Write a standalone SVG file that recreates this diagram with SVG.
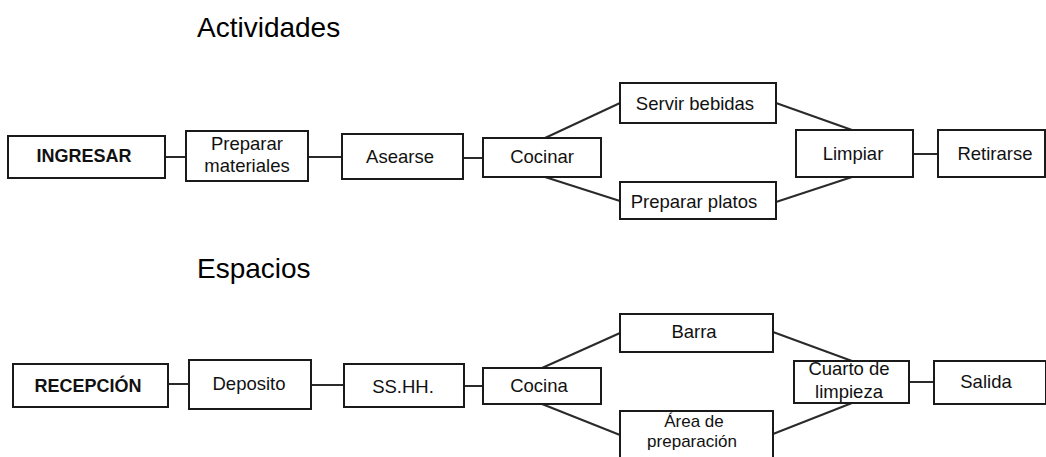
<svg xmlns="http://www.w3.org/2000/svg" width="1046" height="457" viewBox="0 0 1046 457">
<style>
.box{fill:#fff;stroke:#1a1a1a;stroke-width:2}
.t{font-family:"Liberation Sans",Arial,sans-serif;font-size:18.5px;fill:#111;text-anchor:middle}
.b{font-weight:bold;font-size:18px}
.s{font-size:17px}
.h{font-family:"Liberation Sans",Arial,sans-serif;font-size:28px;fill:#000}
.c{stroke:#2a2a2a;stroke-width:2;fill:none}
</style>
<rect width="1046" height="457" fill="#fff"/>
<text class="h" x="197" y="37">Actividades</text>
<text class="h" x="197" y="278">Espacios</text>
<g id="connectors">
<line class="c" x1="165" y1="157" x2="186" y2="157"/>
<line class="c" x1="308" y1="157" x2="342" y2="157"/>
<line class="c" x1="463" y1="158" x2="483" y2="158"/>
<line class="c" x1="545" y1="138" x2="620" y2="103"/>
<line class="c" x1="545" y1="177" x2="620" y2="201"/>
<line class="c" x1="776" y1="103" x2="852" y2="130"/>
<line class="c" x1="776" y1="202" x2="852" y2="177"/>
<line class="c" x1="913" y1="154" x2="938" y2="154"/>
<line class="c" x1="168" y1="384" x2="189" y2="384"/>
<line class="c" x1="311" y1="385" x2="344" y2="385"/>
<line class="c" x1="464" y1="386" x2="483" y2="386"/>
<line class="c" x1="542" y1="368" x2="620" y2="333"/>
<line class="c" x1="542" y1="404" x2="620" y2="435"/>
<line class="c" x1="773" y1="332" x2="852" y2="361"/>
<line class="c" x1="773" y1="434" x2="852" y2="403"/>
<line class="c" x1="909" y1="382" x2="934" y2="382"/>
</g>
<g id="ingresar"><rect class="box" x="8" y="136" width="157" height="42"/><text class="t b" x="84" y="162">INGRESAR</text></g>
<g id="preparar-materiales"><rect class="box" x="186" y="131" width="122" height="50"/><text class="t" x="247" y="150">Preparar</text><text class="t" x="247" y="172">materiales</text></g>
<g id="asearse"><rect class="box" x="342" y="134" width="121" height="45"/><text class="t" x="400" y="163">Asearse</text></g>
<g id="cocinar"><rect class="box" x="483" y="138" width="118" height="39"/><text class="t" x="542" y="163">Cocinar</text></g>
<g id="servir-bebidas"><rect class="box" x="620" y="83" width="156" height="40"/><text class="t" x="695" y="110">Servir bebidas</text></g>
<g id="preparar-platos"><rect class="box" x="620" y="182" width="156" height="37"/><text class="t" x="694" y="208">Preparar platos</text></g>
<g id="limpiar"><rect class="box" x="796" y="130" width="117" height="47"/><text class="t" x="853" y="160">Limpiar</text></g>
<g id="retirarse"><rect class="box" x="938" y="130" width="107" height="47"/><text class="t" x="995" y="160">Retirarse</text></g>
<g id="recepcion"><rect class="box" x="13" y="364" width="155" height="43"/><text class="t b" x="88" y="392">RECEPCIÓN</text></g>
<g id="deposito"><rect class="box" x="189" y="360" width="122" height="49"/><text class="t" x="249" y="390">Deposito</text></g>
<g id="sshh"><rect class="box" x="344" y="364" width="120" height="43"/><text class="t" x="403" y="393">SS.HH.</text></g>
<g id="cocina"><rect class="box" x="483" y="368" width="118" height="36"/><text class="t" x="539" y="392">Cocina</text></g>
<g id="barra"><rect class="box" x="620" y="314" width="153" height="38"/><text class="t" x="694" y="338">Barra</text></g>
<g id="area-preparacion"><rect class="box" x="620" y="411" width="153" height="50"/><text class="t s" x="694" y="427">Área de</text><text class="t s" x="692" y="447">preparación</text></g>
<g id="cuarto-limpieza"><rect class="box" x="794" y="361" width="115" height="42"/><text class="t" x="849" y="375">Cuarto de</text><text class="t" x="849" y="398">limpieza</text></g>
<g id="salida"><rect class="box" x="934" y="361" width="112" height="43"/><text class="t" x="986" y="388">Salida</text></g>
</svg>
